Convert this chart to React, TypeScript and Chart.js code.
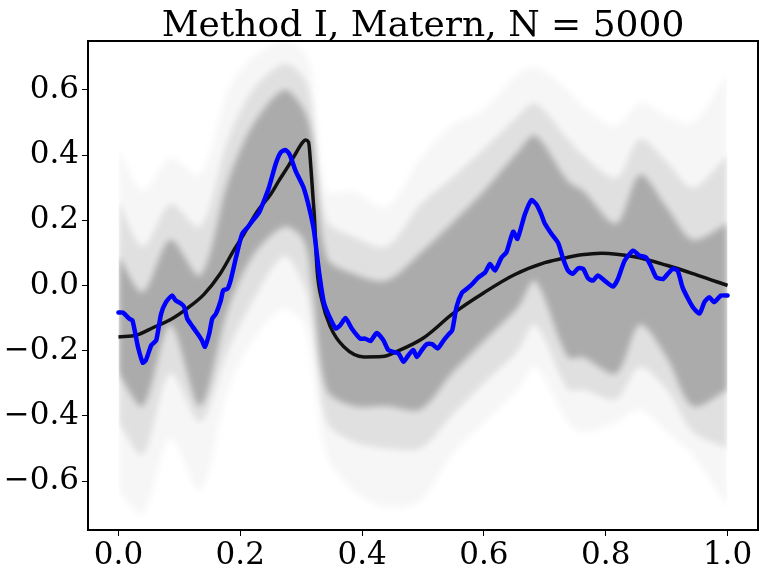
import React, { useEffect, useRef } from "react";
import { Chart, registerables } from "chart.js";

const TITLE = "Method I, Matern, N = 5000";
const X_TICKS = [0, 0.2, 0.4, 0.6, 0.8, 1.0];
const Y_TICKS = [-0.6, -0.4, -0.2, 0, 0.2, 0.4, 0.6];

// true function (black)
const truthX = [0, 0.03, 0.058, 0.085, 0.113, 0.14, 0.167, 0.19, 0.206, 0.227, 0.25, 0.263, 0.28, 0.291, 0.302, 0.307, 0.312, 0.316, 0.319, 0.322, 0.326, 0.334, 0.348, 0.37, 0.403, 0.433, 0.46, 0.5, 0.55, 0.6, 0.65, 0.7, 0.727, 0.76, 0.793, 0.847, 0.9, 0.95, 1.0];
const truthY = [-0.158, -0.152, -0.128, -0.105, -0.07, -0.028, 0.036, 0.11, 0.158, 0.225, 0.28, 0.32, 0.37, 0.405, 0.438, 0.446, 0.44, 0.36, 0.28, 0.2, 0.05, -0.046, -0.127, -0.188, -0.219, -0.218, -0.2, -0.162, -0.085, -0.022, 0.033, 0.07, 0.082, 0.094, 0.099, 0.088, 0.062, 0.032, 0.0];

// estimate (blue)
const meanX = [0, 0.007, 0.018, 0.023, 0.032, 0.04, 0.045, 0.054, 0.062, 0.07, 0.078, 0.088, 0.094, 0.103, 0.108, 0.113, 0.122, 0.13, 0.137, 0.142, 0.149, 0.154, 0.16, 0.168, 0.172, 0.179, 0.184, 0.193, 0.203, 0.212, 0.22, 0.231, 0.239, 0.247, 0.258, 0.266, 0.274, 0.281, 0.291, 0.304, 0.313, 0.321, 0.329, 0.337, 0.345, 0.357, 0.364, 0.373, 0.383, 0.397, 0.405, 0.414, 0.424, 0.435, 0.443, 0.452, 0.46, 0.468, 0.476, 0.484, 0.49, 0.498, 0.506, 0.515, 0.524, 0.534, 0.542, 0.548, 0.555, 0.564, 0.572, 0.58, 0.591, 0.602, 0.61, 0.618, 0.629, 0.637, 0.648, 0.655, 0.667, 0.678, 0.686, 0.694, 0.7, 0.711, 0.722, 0.73, 0.738, 0.746, 0.755, 0.763, 0.771, 0.779, 0.787, 0.798, 0.812, 0.82, 0.831, 0.845, 0.855, 0.866, 0.875, 0.883, 0.894, 0.902, 0.91, 0.918, 0.926, 0.935, 0.943, 0.954, 0.962, 0.97, 0.978, 0.989, 1.0];
const meanY = [-0.083, -0.083, -0.102, -0.107, -0.188, -0.237, -0.229, -0.183, -0.168, -0.087, -0.051, -0.031, -0.046, -0.056, -0.066, -0.102, -0.127, -0.148, -0.168, -0.188, -0.148, -0.102, -0.087, -0.046, -0.015, -0.01, 0.015, 0.086, 0.158, 0.178, 0.198, 0.224, 0.26, 0.3, 0.372, 0.407, 0.416, 0.402, 0.351, 0.3, 0.239, 0.168, 0.046, -0.05, -0.09, -0.132, -0.122, -0.1, -0.132, -0.163, -0.163, -0.17, -0.146, -0.168, -0.198, -0.204, -0.209, -0.234, -0.214, -0.198, -0.219, -0.198, -0.18, -0.18, -0.193, -0.168, -0.15, -0.137, -0.066, -0.022, -0.01, 0.003, 0.025, 0.04, 0.066, 0.046, 0.086, 0.102, 0.165, 0.143, 0.217, 0.262, 0.249, 0.219, 0.19, 0.158, 0.13, 0.082, 0.046, 0.036, 0.053, 0.051, 0.022, 0.015, 0.031, 0.015, -0.003, 0.02, 0.076, 0.107, 0.092, 0.086, 0.056, 0.025, 0.02, 0.036, 0.051, 0.046, -0.005, -0.04, -0.066, -0.086, -0.051, -0.036, -0.051, -0.031, -0.031];

// sample-path envelope (gray)
const bandX = [0, 0.04, 0.085, 0.134, 0.18, 0.22, 0.272, 0.304, 0.318, 0.342, 0.386, 0.44, 0.496, 0.547, 0.6, 0.656, 0.684, 0.738, 0.763, 0.817, 0.856, 0.9, 0.943, 1.0];
const denseHi = [0.09, -0.02, 0.14, 0.03, 0.32, 0.49, 0.6, 0.54, 0.45, 0.086, 0.036, 0.015, 0.1, 0.19, 0.29, 0.41, 0.46, 0.32, 0.29, 0.19, 0.34, 0.24, 0.14, 0.19];
const denseLo = [-0.27, -0.37, -0.12, -0.37, -0.07, 0.09, 0.18, 0.14, 0.0, -0.32, -0.37, -0.37, -0.38, -0.27, -0.17, -0.066, 0.015, -0.22, -0.22, -0.27, -0.12, -0.22, -0.37, -0.32];
const midHi = [0.26, 0.12, 0.25, 0.18, 0.45, 0.6, 0.68, 0.64, 0.55, 0.2, 0.15, 0.12, 0.25, 0.33, 0.42, 0.52, 0.56, 0.45, 0.4, 0.33, 0.45, 0.38, 0.3, 0.4];
const midLo = [-0.42, -0.52, -0.27, -0.42, -0.2, -0.05, 0.09, 0.0, -0.12, -0.42, -0.48, -0.5, -0.5, -0.4, -0.3, -0.2, -0.12, -0.32, -0.32, -0.35, -0.25, -0.32, -0.45, -0.5];
const faintHi = [0.42, 0.29, 0.39, 0.34, 0.6, 0.7, 0.75, 0.72, 0.65, 0.29, 0.29, 0.24, 0.39, 0.49, 0.54, 0.65, 0.67, 0.6, 0.55, 0.49, 0.56, 0.52, 0.5, 0.65];
const faintLo = [-0.63, -0.7, -0.47, -0.63, -0.32, -0.17, -0.07, -0.12, -0.25, -0.52, -0.63, -0.68, -0.66, -0.52, -0.42, -0.32, -0.25, -0.42, -0.45, -0.42, -0.38, -0.45, -0.52, -0.68];

const FONT = "'DejaVu Serif', serif";

// softens the envelope fills; registered before the filler so it wraps it
let bandFilterOn = false;
const bandSoftPlugin = {
  id: "bandSoft",
  beforeDatasetsDraw(chart: any) {
    const { ctx, chartArea, scales } = chart;
    const x0 = scales.x.getPixelForValue(0);
    const x1 = scales.x.getPixelForValue(1);
    ctx.save();
    ctx.beginPath();
    ctx.rect(x0, chartArea.top, x1 - x0, chartArea.bottom - chartArea.top);
    ctx.clip();
    ctx.filter = "blur(3px)";
    bandFilterOn = true;
  },
  beforeDatasetDraw(chart: any) {
    if (bandFilterOn) {
      chart.ctx.restore();
      bandFilterOn = false;
    }
  },
};
Chart.register(bandSoftPlugin);
Chart.register(...registerables);

const pts = (xs: number[], ys: number[]) => xs.map((x, i) => ({ x, y: ys[i] }));

const fmt = (v: number) => {
  const r = Math.round(v * 10) / 10;
  if (Math.abs(r) < 1e-9) return "0.0";
  return r < 0 ? "\u2212" + Math.abs(r).toFixed(1) : r.toFixed(1);
};

const framePlugin = {
  id: "frame",
  afterDatasetsDraw(chart: any) {
    const { ctx, chartArea } = chart;
    const { left, top, right, bottom } = chartArea;
    ctx.save();
    ctx.strokeStyle = "#000";
    ctx.lineWidth = 2;
    ctx.strokeRect(left, top, right - left, bottom - top);
    ctx.restore();
  },
  afterDraw(chart: any) {
    const { ctx, chartArea } = chart;
    ctx.save();
    ctx.fillStyle = "#000";
    ctx.font = `36px ${FONT}`;
    ctx.textAlign = "center";
    ctx.textBaseline = "alphabetic";
    ctx.fillText(TITLE, (chartArea.left + chartArea.right) / 2, 36);
    ctx.restore();
  },
};

function bandPair(hi: number[], lo: number[], color: string, order: number) {
  return [
    {
      data: pts(bandX, hi),
      borderWidth: 0,
      borderColor: "transparent",
      pointRadius: 0,
      backgroundColor: color,
      fill: "+1",
      tension: 0.3,
      order,
    },
    {
      data: pts(bandX, lo),
      borderWidth: 0,
      borderColor: "transparent",
      pointRadius: 0,
      backgroundColor: color,
      fill: false,
      tension: 0.3,
      order,
    },
  ];
}

export default function App() {
  const ref = useRef<HTMLCanvasElement | null>(null);

  useEffect(() => {
    if (!ref.current) return;
    const chart = new Chart(ref.current, {
      type: "line",
      data: {
        datasets: [
          {
            data: pts(meanX, meanY),
            borderColor: "#0000ff",
            borderWidth: 4.5,
            pointRadius: 0,
            fill: false,
            tension: 0.2,
            borderJoinStyle: "round",
            borderCapStyle: "round",
            order: 0,
          },
          {
            data: pts(truthX, truthY),
            borderColor: "rgba(0,0,0,0.9)",
            borderWidth: 3.5,
            pointRadius: 0,
            fill: false,
            cubicInterpolationMode: "monotone",
            borderJoinStyle: "round",
            order: 1,
          },
          ...bandPair(denseHi, denseLo, "rgba(0,0,0,0.24)", 2),
          ...bandPair(midHi, midLo, "rgba(0,0,0,0.09)", 3),
          ...bandPair(faintHi, faintLo, "rgba(0,0,0,0.035)", 4),
        ] as any,
      },
      options: {
        animation: false,
        responsive: false,
        devicePixelRatio: 1,
        layout: { padding: { left: 0, right: 6, top: 41, bottom: 0 } },
        plugins: {
          legend: { display: false },
          tooltip: { enabled: false },
          title: { display: false },
          filler: { drawTime: "beforeDatasetsDraw" },
        } as any,
        scales: {
          x: {
            type: "linear",
            min: -0.05,
            max: 1.05,
            afterBuildTicks: (s: any) => {
              s.ticks = X_TICKS.map((v) => ({ value: v }));
            },
            afterFit: (s: any) => {
              s.height = 42;
            },
            grid: { display: true, drawOnChartArea: false, drawTicks: true, tickLength: 6, tickColor: "#000", tickWidth: 1 },
            border: { display: false },
            ticks: {
              color: "#000",
              font: { family: FONT, size: 31 },
              padding: 1,
              maxRotation: 0,
              autoSkip: false,
              callback: (v: any) => fmt(Number(v)),
            },
          },
          y: {
            type: "linear",
            min: -0.75,
            max: 0.75,
            afterBuildTicks: (s: any) => {
              s.ticks = Y_TICKS.map((v) => ({ value: v }));
            },
            afterFit: (s: any) => {
              s.width = 88;
            },
            grid: { display: true, drawOnChartArea: false, drawTicks: true, tickLength: 6, tickColor: "#000", tickWidth: 1 },
            border: { display: false },
            ticks: {
              color: "#000",
              font: { family: FONT, size: 31 },
              padding: 3,
              autoSkip: false,
              callback: (v: any) => fmt(Number(v)),
            },
          },
        },
      },
      plugins: [framePlugin],
    });
    return () => chart.destroy();
  }, []);

  return (
    <div style={{ position: "absolute", left: 0, top: 0, width: 764, height: 572, background: "#fff" }}>
      <canvas ref={ref} width={764} height={572} style={{ display: "block" }} />
    </div>
  );
}
